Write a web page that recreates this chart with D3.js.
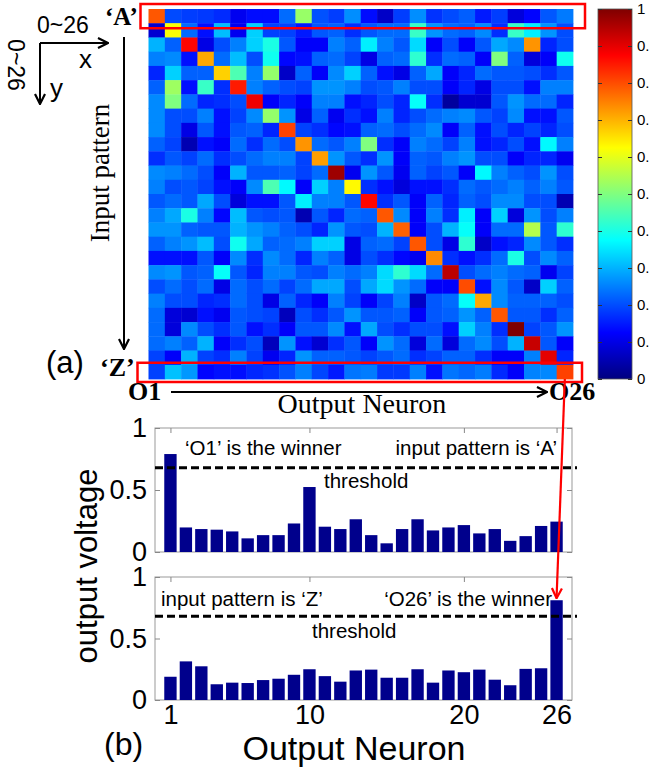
<!DOCTYPE html>
<html>
<head>
<meta charset="utf-8">
<title>Winner-take-all output map</title>
<script src="https://d3js.org/d3.v7.min.js"></script>
<style>
  body { margin: 0; background: #fff; }
  svg { display: block; }
  .sans { font-family: "Liberation Sans", Arial, sans-serif; }
  .serif { font-family: "Liberation Serif", "Times New Roman", serif; }
</style>
</head>
<body>
<svg id="fig" width="649" height="769"></svg>
<script>
// ---- data ----
var outputNeurons = d3.range(1, 27);  // O1 .. O26

// output voltages for pattern 'A' (top bar chart, also heatmap row 0)
var patternA = [0.79, 0.198, 0.185, 0.18, 0.166, 0.11, 0.136, 0.136, 0.23, 0.524, 0.204, 0.185, 0.264,
                0.136, 0.07, 0.185, 0.264, 0.174, 0.198, 0.217, 0.15, 0.185, 0.09, 0.128, 0.21, 0.245];
// output voltages for pattern 'Z' (bottom bar chart, also heatmap row 25)
var patternZ = [0.189, 0.314, 0.274, 0.128, 0.141, 0.138, 0.162, 0.173, 0.205, 0.25, 0.194, 0.149, 0.24,
                0.247, 0.181, 0.181, 0.25, 0.141, 0.24, 0.226, 0.247, 0.165, 0.12, 0.253, 0.258, 0.811];
var thresholdA = 0.68;
var thresholdZ = 0.68;

// heatmap rows (input pattern 'A'..'Z') x columns (output neuron O1..O26)
var heatRows = [
  patternA,
  [0.08,0.62,0.23,0.14,0.31,0.11,0.33,0.19,0.19,0.15,0.21,0.22,0.17,0.21,0.23,0.23,0.43,0.27,0.23,0.22,0.26,0.17,0.43,0.36,0.27,0.20],
  [0.30,0.22,0.87,0.10,0.20,0.25,0.33,0.40,0.21,0.12,0.12,0.25,0.22,0.36,0.25,0.21,0.34,0.12,0.20,0.12,0.21,0.29,0.26,0.73,0.16,0.20],
  [0.25,0.26,0.14,0.71,0.23,0.31,0.20,0.39,0.13,0.14,0.22,0.23,0.19,0.10,0.22,0.23,0.42,0.17,0.23,0.22,0.12,0.50,0.22,0.09,0.12,0.39],
  [0.16,0.33,0.22,0.22,0.67,0.45,0.25,0.52,0.07,0.22,0.12,0.26,0.33,0.22,0.14,0.10,0.22,0.29,0.12,0.16,0.23,0.21,0.21,0.20,0.17,0.21],
  [0.22,0.53,0.14,0.43,0.17,0.85,0.25,0.22,0.20,0.19,0.27,0.27,0.25,0.20,0.21,0.25,0.20,0.20,0.12,0.16,0.10,0.20,0.20,0.14,0.25,0.25],
  [0.26,0.50,0.23,0.16,0.17,0.20,0.89,0.12,0.16,0.12,0.25,0.25,0.14,0.16,0.20,0.16,0.38,0.17,0.03,0.08,0.08,0.21,0.27,0.23,0.23,0.16],
  [0.26,0.20,0.20,0.25,0.14,0.19,0.26,0.52,0.27,0.10,0.22,0.11,0.17,0.14,0.25,0.16,0.20,0.23,0.25,0.26,0.21,0.19,0.26,0.14,0.14,0.21],
  [0.26,0.20,0.10,0.21,0.14,0.21,0.22,0.16,0.81,0.19,0.17,0.13,0.14,0.22,0.23,0.20,0.23,0.26,0.12,0.22,0.14,0.20,0.16,0.19,0.16,0.20],
  [0.22,0.19,0.05,0.14,0.12,0.23,0.17,0.23,0.20,0.73,0.23,0.21,0.25,0.50,0.17,0.12,0.25,0.23,0.19,0.25,0.14,0.16,0.20,0.14,0.37,0.25],
  [0.17,0.21,0.19,0.23,0.17,0.20,0.23,0.25,0.25,0.19,0.72,0.27,0.21,0.17,0.27,0.12,0.22,0.21,0.25,0.27,0.20,0.20,0.12,0.16,0.16,0.11],
  [0.26,0.25,0.23,0.20,0.12,0.30,0.21,0.21,0.22,0.19,0.23,0.97,0.11,0.27,0.21,0.11,0.22,0.19,0.21,0.12,0.37,0.25,0.22,0.20,0.27,0.20],
  [0.25,0.20,0.21,0.19,0.14,0.12,0.26,0.45,0.37,0.12,0.33,0.25,0.63,0.17,0.14,0.09,0.14,0.14,0.17,0.23,0.21,0.23,0.25,0.22,0.25,0.21],
  [0.21,0.23,0.21,0.29,0.20,0.09,0.14,0.14,0.21,0.36,0.25,0.25,0.21,0.87,0.17,0.21,0.12,0.22,0.16,0.22,0.20,0.26,0.26,0.20,0.20,0.05],
  [0.25,0.29,0.40,0.25,0.13,0.31,0.21,0.20,0.21,0.05,0.21,0.16,0.23,0.22,0.79,0.26,0.12,0.25,0.17,0.36,0.12,0.33,0.09,0.27,0.20,0.25],
  [0.27,0.27,0.22,0.21,0.21,0.30,0.27,0.25,0.22,0.20,0.16,0.27,0.21,0.20,0.30,0.78,0.12,0.20,0.30,0.38,0.12,0.23,0.23,0.55,0.21,0.42],
  [0.22,0.25,0.27,0.31,0.20,0.39,0.29,0.22,0.23,0.25,0.33,0.33,0.10,0.22,0.23,0.19,0.79,0.20,0.10,0.42,0.07,0.14,0.16,0.26,0.21,0.17],
  [0.14,0.14,0.14,0.21,0.12,0.26,0.17,0.26,0.23,0.16,0.25,0.22,0.10,0.20,0.17,0.13,0.11,0.74,0.17,0.14,0.17,0.23,0.40,0.20,0.26,0.22],
  [0.26,0.27,0.21,0.22,0.38,0.21,0.16,0.25,0.25,0.21,0.20,0.25,0.23,0.25,0.34,0.42,0.34,0.23,0.94,0.20,0.23,0.25,0.23,0.22,0.11,0.19],
  [0.20,0.23,0.20,0.23,0.10,0.23,0.20,0.23,0.19,0.23,0.29,0.29,0.20,0.29,0.34,0.27,0.23,0.12,0.12,0.80,0.14,0.26,0.21,0.07,0.33,0.22],
  [0.25,0.20,0.20,0.16,0.17,0.23,0.20,0.10,0.22,0.16,0.12,0.25,0.19,0.12,0.19,0.25,0.07,0.21,0.23,0.38,0.71,0.26,0.22,0.22,0.22,0.20],
  [0.23,0.09,0.08,0.14,0.11,0.21,0.20,0.19,0.06,0.20,0.17,0.21,0.27,0.21,0.21,0.22,0.12,0.21,0.22,0.27,0.22,0.79,0.21,0.21,0.17,0.22],
  [0.23,0.09,0.26,0.20,0.17,0.21,0.14,0.17,0.12,0.21,0.21,0.26,0.14,0.29,0.20,0.17,0.20,0.20,0.14,0.33,0.25,0.17,1.00,0.19,0.21,0.27],
  [0.23,0.25,0.22,0.30,0.12,0.17,0.20,0.06,0.27,0.14,0.08,0.17,0.21,0.12,0.27,0.23,0.09,0.23,0.09,0.23,0.26,0.20,0.30,0.93,0.21,0.12],
  [0.19,0.12,0.30,0.19,0.17,0.25,0.19,0.11,0.16,0.27,0.22,0.22,0.21,0.19,0.21,0.23,0.17,0.19,0.22,0.22,0.17,0.12,0.12,0.25,0.90,0.16],
  patternZ
];

var colorbarTicks = [0, 0.1, 0.2, 0.3, 0.4, 0.5, 0.6, 0.7, 0.8, 0.9, 1];
var barYTicks = [0, 0.5, 1];
var barXTicks = [1, 10, 20, 26];

// ---- setup ----
var svg = d3.select("#fig");
var defs = svg.append("defs");

// open chevron arrowheads
function addArrow(id, color) {
  defs.append("marker")
      .attr("id", id)
      .attr("viewBox", "0 0 12 12")
      .attr("refX", 11).attr("refY", 6)
      .attr("markerUnits", "userSpaceOnUse")
      .attr("markerWidth", 12).attr("markerHeight", 12)
      .attr("orient", "auto")
    .append("path")
      .attr("d", "M1,1 L11,6 L1,11")
      .attr("fill", "none")
      .attr("stroke", color)
      .attr("stroke-width", 2.2);
}
addArrow("arrBlack", "#000");
addArrow("arrRed", "#f00");

// MATLAB jet colormap
var jet = d3.scaleLinear()
    .domain([0, 0.125, 0.375, 0.625, 0.875, 1])
    .range(["#00007f", "#0000ff", "#00ffff", "#ffff00", "#ff0000", "#7f0000"])
    .clamp(true);

// ---- (a) heatmap ----
var hx = d3.scaleBand().domain(d3.range(26)).range([148.5, 573]);
var hy = d3.scaleBand().domain(d3.range(26)).range([9, 379]);

var cells = [];
heatRows.forEach(function(row, r) {
  row.forEach(function(v, c) { cells.push({r: r, c: c, v: v}); });
});

svg.append("g")
  .selectAll("rect")
  .data(cells)
  .enter()
  .append("rect")
    .attr("x", function(d) { return hx(d.c); })
    .attr("y", function(d) { return hy(d.r); })
    .attr("width", hx.bandwidth() + 0.4)
    .attr("height", hy.bandwidth() + 0.4)
    .attr("fill", function(d) { return jet(d.v); });

// colorbar
var cb = d3.scaleLinear().domain([0, 1]).range([379, 9]);
var grad = defs.append("linearGradient")
    .attr("id", "jetGrad")
    .attr("x1", 0).attr("y1", 1).attr("x2", 0).attr("y2", 0);
jet.domain().forEach(function(s) {
  grad.append("stop").attr("offset", s).attr("stop-color", jet(s));
});
svg.append("rect")
    .attr("x", 598).attr("y", cb(1))
    .attr("width", 34).attr("height", cb(0) - cb(1))
    .attr("fill", "url(#jetGrad)")
    .attr("stroke", "#555").attr("stroke-width", 0.8);

var cbRight = svg.append("g")
    .attr("class", "sans")
    .attr("transform", "translate(632,0)")
    .call(d3.axisRight(cb).tickValues(colorbarTicks).tickSize(-4).tickPadding(5)
      .tickFormat(function(d) { return (d === 0 || d === 1) ? d : d3.format(".1f")(d); }));
cbRight.select(".domain").remove();
cbRight.selectAll("line").attr("stroke", "#333");
cbRight.selectAll("text").attr("font-family", null).attr("font-size", 15).attr("fill", "#000");

var cbLeft = svg.append("g")
    .attr("transform", "translate(598,0)")
    .call(d3.axisLeft(cb).tickValues(colorbarTicks).tickSize(-4).tickFormat(""));
cbLeft.select(".domain").remove();
cbLeft.selectAll("line").attr("stroke", "#333");

// red boxes around rows 'A' and 'Z'
svg.append("rect")
    .attr("x", hx.range()[0] - 8).attr("y", hy(0) - 5)
    .attr("width", hx.range()[1] - hx.range()[0] + 20).attr("height", hy.bandwidth() + 10)
    .attr("fill", "none").attr("stroke", "#f00").attr("stroke-width", 2.5);
svg.append("rect")
    .attr("x", hx.range()[0] - 11).attr("y", hy(25) - 2)
    .attr("width", hx.range()[1] - hx.range()[0] + 20).attr("height", hy.bandwidth() + 5)
    .attr("fill", "none").attr("stroke", "#f00").attr("stroke-width", 2.5);

// axis sketch in the corner
svg.append("text").attr("class", "sans").attr("x", 37).attr("y", 33)
    .attr("font-size", 23).text("0~26");
svg.append("line").attr("x1", 40).attr("y1", 43).attr("x2", 108).attr("y2", 43)
    .attr("stroke", "#000").attr("stroke-width", 2).attr("marker-end", "url(#arrBlack)");
svg.append("line").attr("x1", 40).attr("y1", 43).attr("x2", 40).attr("y2", 104)
    .attr("stroke", "#000").attr("stroke-width", 2).attr("marker-end", "url(#arrBlack)");
svg.append("text").attr("class", "sans").attr("x", 79).attr("y", 68)
    .attr("font-size", 26).text("x");
svg.append("text").attr("class", "sans").attr("x", 50).attr("y", 97)
    .attr("font-size", 26).text("y");
svg.append("text").attr("class", "sans")
    .attr("transform", "translate(8,65) rotate(90)")
    .attr("text-anchor", "middle").attr("font-size", 23).text("0~26");

// input pattern axis
svg.append("text").attr("class", "serif").attr("x", 105).attr("y", 25)
    .attr("font-size", 25).attr("font-weight", "bold").text("\u2018A\u2019");
svg.append("text").attr("class", "serif").attr("x", 100).attr("y", 376)
    .attr("font-size", 26).attr("font-weight", "bold").text("\u2018Z\u2019");
svg.append("line").attr("x1", 124).attr("y1", 37).attr("x2", 124).attr("y2", 349)
    .attr("stroke", "#000").attr("stroke-width", 2).attr("marker-end", "url(#arrBlack)");
svg.append("text").attr("class", "serif")
    .attr("transform", "translate(109,173) rotate(-90)")
    .attr("text-anchor", "middle").attr("font-size", 27).text("Input pattern");
svg.append("text").attr("class", "sans").attr("x", 46).attr("y", 373)
    .attr("font-size", 31).text("(a)");

// output neuron axis
svg.append("text").attr("class", "serif").attr("x", 128).attr("y", 400)
    .attr("font-size", 26).attr("font-weight", "bold").text("O1");
svg.append("line").attr("x1", 171).attr("y1", 392).attr("x2", 547).attr("y2", 392)
    .attr("stroke", "#000").attr("stroke-width", 2).attr("marker-end", "url(#arrBlack)");
svg.append("text").attr("class", "serif").attr("x", 549).attr("y", 400)
    .attr("font-size", 26).attr("font-weight", "bold").text("O26");
svg.append("text").attr("class", "serif").attr("x", 362).attr("y", 413)
    .attr("text-anchor", "middle").attr("font-size", 28).text("Output Neuron");

// ---- (b) bar charts ----
var bx = d3.scaleLinear().domain([0, 27]).range([155, 572]);
var barW = (bx(1) - bx(0)) * 0.8;

function barPanel(values, top, bottom, threshold, showLabels) {
  var by = d3.scaleLinear().domain([0, 1]).range([bottom, top]);
  var g = svg.append("g").attr("class", "sans");

  g.append("rect")
      .attr("x", bx(0)).attr("y", by(1))
      .attr("width", bx(27) - bx(0)).attr("height", by(0) - by(1))
      .attr("fill", "#fff").attr("stroke", "#999").attr("stroke-width", 1);

  var axL = g.append("g").attr("transform", "translate(" + bx(0) + ",0)")
      .call(d3.axisLeft(by).tickValues(barYTicks).tickSize(-5).tickPadding(8)
        .tickFormat(function(d) { return d; }));
  var axR = g.append("g").attr("transform", "translate(" + bx(27) + ",0)")
      .call(d3.axisRight(by).tickValues(barYTicks).tickSize(-5).tickFormat(""));
  var axT = g.append("g").attr("transform", "translate(0," + by(1) + ")")
      .call(d3.axisTop(bx).tickValues(barXTicks).tickSize(-5).tickFormat(""));
  var axB = g.append("g").attr("transform", "translate(0," + by(0) + ")")
      .call(d3.axisBottom(bx).tickValues(barXTicks).tickSize(-5).tickPadding(5)
        .tickFormat(showLabels ? function(d) { return d; } : ""));
  [axL, axR, axT, axB].forEach(function(a) {
    a.select(".domain").remove();
    a.selectAll("line").attr("stroke", "#888");
    a.selectAll("text").attr("font-family", null).attr("font-size", 27).attr("fill", "#000");
  });

  g.append("g")
    .selectAll("rect")
    .data(values)
    .enter()
    .append("rect")
      .attr("x", function(d, i) { return bx(outputNeurons[i]) - barW / 2; })
      .attr("y", function(d) { return by(d); })
      .attr("width", barW)
      .attr("height", function(d) { return by(0) - by(d); })
      .attr("fill", "#00008c");

  g.append("line")
      .attr("x1", bx(0)).attr("x2", bx(27) + 5)
      .attr("y1", by(threshold)).attr("y2", by(threshold))
      .attr("stroke", "#000").attr("stroke-width", 3)
      .attr("stroke-dasharray", "8,4");
  return by;
}

var byA = barPanel(patternA, 428, 552, thresholdA, false);
var byZ = barPanel(patternZ, 577, 700, thresholdZ, true);

// annotations, top panel
svg.append("text").attr("class", "sans").attr("x", 185).attr("y", 455)
    .attr("font-size", 20.5).text("\u2018O1\u2019 is the winner");
svg.append("text").attr("class", "sans").attr("x", 557).attr("y", 455)
    .attr("text-anchor", "end").attr("font-size", 20.5).text("input pattern is \u2018A\u2019");
svg.append("text").attr("class", "sans").attr("x", 324).attr("y", 488)
    .attr("font-size", 20.5).text("threshold");

// annotations, bottom panel
svg.append("text").attr("class", "sans").attr("x", 161).attr("y", 606)
    .attr("font-size", 20.5).text("input pattern is \u2018Z\u2019");
svg.append("text").attr("class", "sans").attr("x", 552).attr("y", 606)
    .attr("text-anchor", "end").attr("font-size", 20.5).text("\u2018O26\u2019 is the winner");
svg.append("text").attr("class", "sans").attr("x", 312).attr("y", 638)
    .attr("font-size", 20.5).text("threshold");

// shared labels
svg.append("text").attr("class", "sans")
    .attr("transform", "translate(97,566) rotate(-90)")
    .attr("text-anchor", "middle").attr("font-size", 31).text("output voltage");
svg.append("text").attr("class", "sans").attr("x", 104).attr("y", 755)
    .attr("font-size", 32).text("(b)");
svg.append("text").attr("class", "sans").attr("x", 354).attr("y", 760)
    .attr("text-anchor", "middle").attr("font-size", 34).text("Output Neuron");

// red arrow: row 'Z' winner -> bar O26
svg.append("line")
    .attr("x1", hx(25) + hx.bandwidth() / 2).attr("y1", hy(25) + hy.bandwidth())
    .attr("x2", bx(26)).attr("y2", byZ(patternZ[25]) - 2)
    .attr("stroke", "#f00").attr("stroke-width", 2.2)
    .attr("marker-end", "url(#arrRed)");
</script>
</body>
</html>
